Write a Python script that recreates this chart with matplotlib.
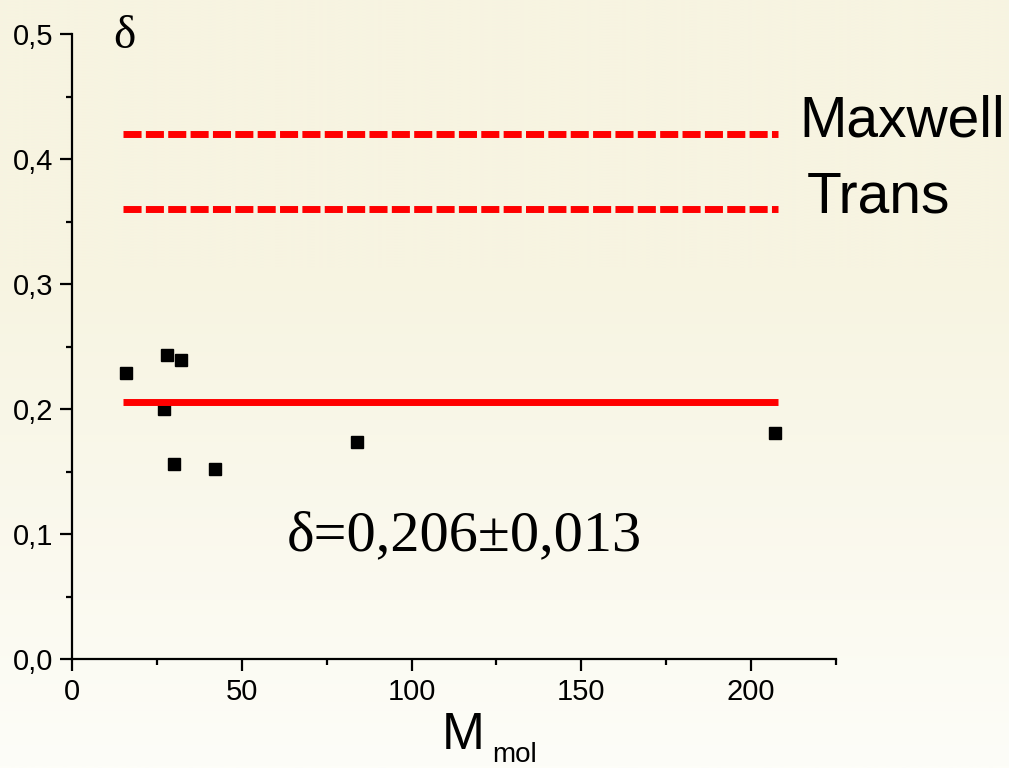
import numpy as np
import matplotlib
matplotlib.use("Agg")
import matplotlib.pyplot as plt
from matplotlib.ticker import MultipleLocator, FuncFormatter

# molar mass vs delta
m_mol = [16, 28, 32, 27, 30, 42, 84, 207]
delta = [0.229, 0.243, 0.239, 0.200, 0.156, 0.152, 0.174, 0.181]

# reference levels
line_x = [15, 208]
maxwell = 0.42
trans = 0.36
delta_mean = 0.206
delta_err = 0.013

plt.rcParams["font.family"] = ["Liberation Sans", "DejaVu Sans"]
serif = ["Liberation Serif", "DejaVu Serif"]

fig = plt.figure(figsize=(10.09, 7.68), dpi=100)

# cream background, lighter towards the bottom
bg = fig.add_axes([0, 0, 1, 1], zorder=-1)
top = np.array([247, 244, 225]) / 255
bot = np.array([253, 253, 248]) / 255
t = np.linspace(0, 1, 256)[:, None]
t = np.clip((t - 0.35) / 0.65, 0, 1)
grad = top[None, :] * (1 - t) + bot[None, :] * t
bg.imshow(grad[:, None, :], aspect="auto", extent=[0, 1, 0, 1])
bg.axis("off")

ax = fig.add_axes([0.0714, 0.1419, 0.7572, 0.8138])
ax.set_facecolor("none")

ax.plot(m_mol, delta, "s", color="black", ms=9.2, mec="black", zorder=2)

ax.plot(line_x, [maxwell, maxwell], color="red", lw=5, dashes=(2.6, 0.62),
        dash_capstyle="butt", zorder=3)
ax.plot(line_x, [trans, trans], color="red", lw=5, dashes=(2.6, 0.62),
        dash_capstyle="butt", zorder=3)
ax.plot(line_x, [delta_mean, delta_mean], color="red", lw=5,
        solid_capstyle="butt", zorder=3)

ax.text(214.1, 0.4184, "Maxwell", fontsize=41, va="baseline")
ax.text(216.5, 0.3576, "Trans", fontsize=41, va="baseline")
lbl = "δ=" + f"{delta_mean:.3f}".replace(".", ",") + "±" + \
    f"{delta_err:.3f}".replace(".", ",")
ax.text(63.2, 0.0872, lbl, family=serif, fontsize=42, va="baseline")

ax.set_xlim(0, 225)
ax.set_ylim(0, 0.5)
for side in ("top", "right"):
    ax.spines[side].set_visible(False)
for side in ("left", "bottom"):
    ax.spines[side].set_linewidth(1.6)

ax.xaxis.set_major_locator(MultipleLocator(50))
ax.xaxis.set_minor_locator(MultipleLocator(25))
ax.yaxis.set_major_locator(MultipleLocator(0.1))
ax.yaxis.set_minor_locator(MultipleLocator(0.05))
ax.yaxis.set_major_formatter(FuncFormatter(lambda v, p: f"{v:.1f}".replace(".", ",")))
ax.xaxis.set_major_formatter(FuncFormatter(lambda v, p: f"{v:.0f}"))
ax.tick_params(which="major", direction="out", length=8.6, width=1.6,
               labelsize=21, pad=5)
ax.tick_params(which="minor", direction="out", length=4.3, width=1.6)

ax.set_ylabel("δ", family=serif, fontsize=34, rotation=0,
              ha="left", va="baseline")
ax.yaxis.set_label_coords(0.0537, 0.978)
ax.set_xlabel("M", fontsize=37, ha="left", va="baseline")
ax.xaxis.set_label_coords(0.4837, -0.144)
ax.text(0.5503, -0.1645, "mol", fontsize=20, va="baseline",
        transform=ax.transAxes)

fig.savefig("out.png", dpi=100)
